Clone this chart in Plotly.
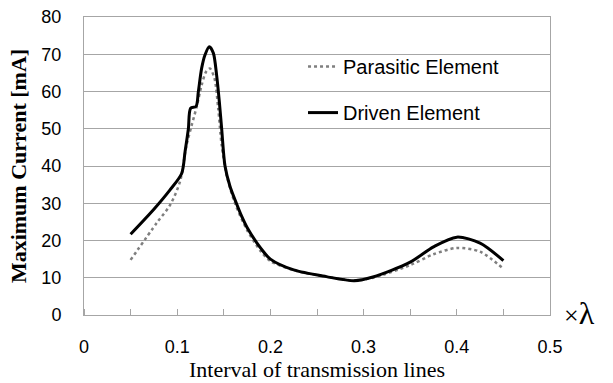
import plotly.graph_objects as go

# Interval of transmission lines (x lambda)
driven_x = [0.05, 0.075, 0.0923, 0.1048, 0.1084, 0.112, 0.1144, 0.1202, 0.1227, 0.1262,
            0.1298, 0.1345, 0.1388, 0.1423, 0.1452, 0.1477, 0.1513, 0.1567, 0.1638, 0.169,
            0.175, 0.19, 0.2, 0.225, 0.26, 0.29, 0.31, 0.35, 0.375, 0.4, 0.425, 0.45]
driven_y = [21.7, 28.4, 33.6, 38.0, 43.8, 50.0, 55.5, 56.0, 60.0, 66.2,
            69.8, 72.0, 70.3, 64.4, 57.3, 50.0, 40.0, 34.5, 29.8, 26.6,
            23.5, 17.8, 15.0, 12.1, 10.3, 9.2, 10.2, 14.2, 18.3, 20.9, 19.3, 14.6]

parasitic_x = [0.05, 0.078, 0.0923, 0.103, 0.11, 0.1156, 0.121, 0.1262, 0.131, 0.135,
               0.14, 0.144, 0.1477, 0.153, 0.162, 0.175, 0.19, 0.2, 0.225, 0.26,
               0.29, 0.31, 0.35, 0.375, 0.4, 0.425, 0.45]
parasitic_y = [14.8, 24.7, 29.5, 35.8, 45.6, 51.0, 56.0, 61.7, 65.3, 66.2,
               63.5, 55.5, 45.6, 37.6, 30.0, 22.8, 17.0, 14.5, 12.0, 10.3,
               9.3, 10.0, 13.4, 16.3, 18.0, 17.0, 12.4]

x_tick_vals = [0, 0.1, 0.2, 0.3, 0.4, 0.5]
x_tick_text = ["0", "0.1", "0.2", "0.3", "0.4", "0.5"]
y_tick_vals = [0, 10, 20, 30, 40, 50, 60, 70, 80]

GRID = "#a6a6a6"
SANS = "Liberation Sans"
SERIF = "Liberation Serif"

fig = go.Figure()
fig.add_trace(go.Scatter(
    x=parasitic_x, y=parasitic_y, mode="lines", name="Parasitic Element",
    line=dict(color="#7f7f7f", width=2.5, dash="dot", shape="spline", smoothing=0.8),
    legendgroup="a",
))
fig.add_trace(go.Scatter(
    x=driven_x, y=driven_y, mode="lines", name="Driven Element",
    line=dict(color="#000000", width=3, shape="spline", smoothing=0.8),
    legendgroup="b",
))

fig.update_layout(
    width=613, height=383,
    margin=dict(l=84, r=63, t=17, b=68),
    paper_bgcolor="white", plot_bgcolor="white",
    showlegend=True,
    legend=dict(
        x=0.47, y=0.899, xanchor="left", yanchor="top",
        font=dict(family=SANS, size=20, color="#000000"),
        bgcolor="rgba(0,0,0,0)", tracegroupgap=17,
        traceorder="grouped",
    ),
    xaxis=dict(
        range=[0, 0.5], tickmode="array", tickvals=x_tick_vals, ticktext=x_tick_text,
        showgrid=False, zeroline=False, automargin=False,
        showline=True, linecolor=GRID, linewidth=1, mirror=True,
        ticks="", ticklabelstandoff=15,
        tickfont=dict(family=SANS, size=18, color="#000000"),
        minor=dict(tickmode="linear", tick0=0, dtick=0.05, ticks="inside", ticklen=6,
                   tickcolor=GRID, showgrid=False),
        title=dict(text="Interval of transmission lines",
                   font=dict(family=SERIF, size=22, color="#000000"), standoff=0),
    ),
    yaxis=dict(
        range=[0, 80], tickmode="array", tickvals=y_tick_vals,
        showgrid=True, gridcolor=GRID, gridwidth=1, zeroline=False, automargin=False,
        showline=True, linecolor=GRID, linewidth=1, mirror=True,
        ticks="", ticklabelstandoff=18,
        tickfont=dict(family=SANS, size=18, color="#000000"),
        title=dict(text="<b>Maximum Current [mA]</b>",
                   font=dict(family=SERIF, size=22, color="#000000"), standoff=8),
    ),
    annotations=[
        dict(x=0.5, y=0, xref="x", yref="y", xanchor="left", yanchor="middle",
             xshift=12, yshift=2, showarrow=False,
             text="<span style='font-size:26px'>×</span><span style='font-size:32px'>λ</span>",
             font=dict(family=SERIF, color="#000000")),
    ],
)

fig.write_html("out.html")
